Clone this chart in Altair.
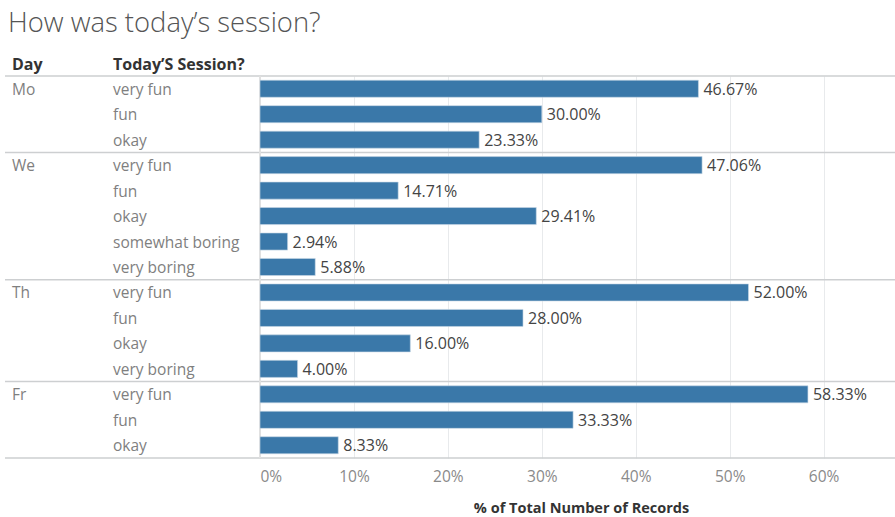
import altair as alt
import pandas as pd

days = ["Mo", "Mo", "Mo",
        "We", "We", "We", "We", "We",
        "Th", "Th", "Th", "Th",
        "Fr", "Fr", "Fr"]
answers = ["very fun", "fun", "okay",
           "very fun", "fun", "okay", "somewhat boring", "very boring",
           "very fun", "fun", "okay", "very boring",
           "very fun", "fun", "okay"]
pcts = [46.67, 30.00, 23.33,
        47.06, 14.71, 29.41, 2.94, 5.88,
        52.00, 28.00, 16.00, 4.00,
        58.33, 33.33, 8.33]
x_ticks = [0, 0.1, 0.2, 0.3, 0.4, 0.5, 0.6]
header_day = "Day"
header_answer = "Today’S Session?"
title_text = "How was today’s session?"

FONT = "Open Sans"
N = len(days)

rows = []
for i, (d, a, p) in enumerate(zip(days, answers, pcts)):
    first = i == 0 or days[i - 1] != d
    rows.append({
        "day": d, "day_label": d if first else "", "answer": a,
        "pct": p / 100.0, "y0": i + 0.165, "y1": i + 0.835, "yc": i + 0.5,
    })
df = pd.DataFrame(rows)

seps = [0]
for i in range(1, N):
    if days[i] != days[i - 1]:
        seps.append(i)
seps.append(N)
sep_df = pd.DataFrame({"ys": seps})

W, H = 620, 382
yscale = alt.Scale(domain=[N, 0], nice=False, zero=False)
xscale = alt.Scale(domain=[0, 0.66], nice=False)
xaxis = alt.Axis(values=x_ticks, format=".0%", title="% of Total Number of Records",
                 grid=True, gridColor="#e8eaec", domain=False, ticks=False,
                 labelFlush=True, labelColor="#8a8a8a", labelFontSize=15.5,
                 labelFont=FONT, labelPadding=11,
                 titleFont=FONT, titleFontSize=14.5, titleFontWeight="bold",
                 titleColor="#333333", titlePadding=17, titleX=321)

base = alt.Chart(df)

bars = base.mark_bar(color="#3a78a9", stroke="#c9d9e6", strokeWidth=0.6).encode(
    x=alt.X("pct:Q", scale=xscale, axis=xaxis),
    x2=alt.datum(0),
    y=alt.Y("y0:Q", scale=yscale, axis=None),
    y2=alt.Y2("y1"),
)

values = base.mark_text(align="left", baseline="middle", dx=5, dy=1, fontSize=16,
                        font=FONT, color="#444444").encode(
    x=alt.X("pct:Q", scale=xscale, axis=xaxis),
    y=alt.Y("yc:Q", scale=yscale, axis=None),
    text=alt.Text("pct:Q", format=".2%"),
)

ans_lbl = base.mark_text(align="left", baseline="middle", dy=1, fontSize=15.5,
                         font=FONT, color="#7f7f7f").encode(
    x=alt.value(-147),
    y=alt.Y("yc:Q", scale=yscale, axis=None),
    text="answer:N",
)

day_lbl = base.mark_text(align="left", baseline="middle", dy=1, fontSize=15.5,
                         font=FONT, color="#7f7f7f").encode(
    x=alt.value(-248),
    y=alt.Y("yc:Q", scale=yscale, axis=None),
    text="day_label:N",
)

sep_rules = alt.Chart(sep_df).mark_rule(color="#cdcfd1", strokeWidth=1.5).encode(
    x=alt.value(-255),
    x2=alt.value(W + 15),
    y=alt.Y("ys:Q", scale=yscale, axis=None),
)

zero_rule = alt.Chart(sep_df).mark_rule(color="#e0e0e0", strokeWidth=1).encode(
    x=alt.value(0),
    y=alt.value(0),
    y2=alt.value(H),
)

head_df = pd.DataFrame({"d": [header_day], "a": [header_answer], "t": [title_text]})
head_day = alt.Chart(head_df).mark_text(align="left", baseline="alphabetic", fontSize=16,
                                        fontWeight="bold", font=FONT, color="#333333").encode(
    x=alt.value(-248), y=alt.value(-6), text="d:N")
head_ans = alt.Chart(head_df).mark_text(align="left", baseline="alphabetic", fontSize=16,
                                        fontWeight="bold", font=FONT, color="#333333").encode(
    x=alt.value(-147), y=alt.value(-6), text="a:N")
title = alt.Chart(head_df).mark_text(align="left", baseline="alphabetic", fontSize=27.4,
                                     font=FONT, fontWeight=300, color="#555555").encode(
    x=alt.value(-252), y=alt.value(-44), text="t:N")

chart = alt.layer(sep_rules, zero_rule, bars, values, ans_lbl, day_lbl,
                  head_day, head_ans, title).properties(
    width=W, height=H,
    padding={"left": 260, "top": 76, "right": 15, "bottom": 59},
    autosize=alt.AutoSizeParams(type="none"),
    background="white",
).configure_view(strokeWidth=0)

chart.save("out.html", embed_options={"renderer": "svg", "actions": False})
